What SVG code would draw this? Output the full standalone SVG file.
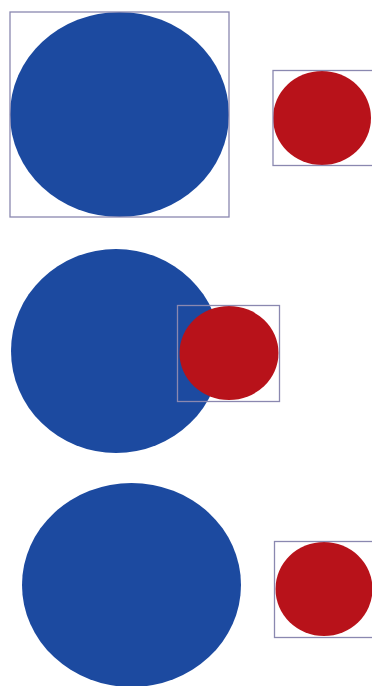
<svg xmlns="http://www.w3.org/2000/svg" width="372" height="686" viewBox="0 0 372 686">
<style>
.big{fill:#1c4aa0}
.small{fill:#b8121a}
.box{fill:none;stroke:#8a88b0;stroke-width:1.3}
</style>
<rect width="372" height="686" fill="#ffffff"/>
<g id="top">
<ellipse class="big" cx="119.5" cy="114.5" rx="109.5" ry="102.5"/>
<rect class="box" x="10" y="12" width="219" height="205"/>
<ellipse class="small" cx="322" cy="118" rx="49" ry="47"/>
<rect class="box" x="273" y="70.5" width="100" height="95"/>
</g>
<g id="middle">
<ellipse class="big" cx="116" cy="351" rx="105" ry="102"/>
<ellipse class="small" cx="229" cy="353" rx="49.5" ry="47"/>
<rect class="box" x="177.5" y="305.5" width="102" height="96"/>
</g>
<g id="bottom">
<ellipse class="big" cx="131.5" cy="585" rx="109.5" ry="102"/>
<ellipse class="small" cx="324" cy="589" rx="48.5" ry="47"/>
<rect class="box" x="274.5" y="541.5" width="100" height="96"/>
</g>
</svg>
